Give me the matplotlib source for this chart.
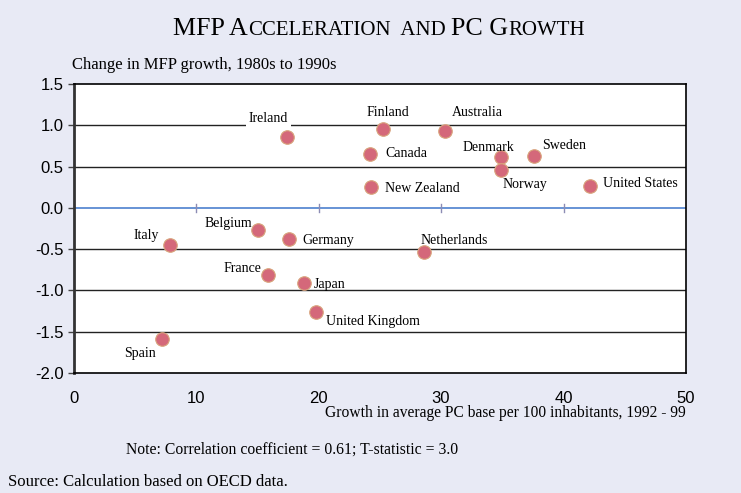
import matplotlib
matplotlib.use('Agg')
import matplotlib.pyplot as plt
from matplotlib.offsetbox import TextArea, HPacker, AnchoredOffsetbox

countries = ['Ireland', 'Finland', 'Canada', 'New Zealand', 'Australia',
             'Denmark', 'Sweden', 'Norway', 'United States', 'Belgium',
             'Italy', 'Germany', 'France', 'Japan', 'United Kingdom',
             'Spain', 'Netherlands']
pc_growth = [17.4, 25.3, 24.2, 24.3, 30.3, 34.9, 37.6, 34.9, 42.2, 15.1,
             7.85, 17.6, 15.9, 18.8, 19.8, 7.25, 28.6]
mfp_change = [0.86, 0.95, 0.65, 0.25, 0.93, 0.62, 0.63, 0.46, 0.26, -0.27,
              -0.45, -0.38, -0.81, -0.91, -1.26, -1.59, -0.54]

y_ticks = [1.5, 1.0, 0.5, 0.0, -0.5, -1.0, -1.5, -2.0]
x_ticks = [0, 10, 20, 30, 40, 50]

# label offsets in pixels (dx, dy, ha)
label_pos = {
    'Ireland': (-18, 18, 'center'), 'Finland': (4, 17, 'center'),
    'Canada': (15, 1, 'left'), 'New Zealand': (14, -1, 'left'),
    'Australia': (33, 19, 'center'), 'Denmark': (-13, 9, 'center'),
    'Sweden': (8, 10, 'left'), 'Norway': (24, -15, 'center'),
    'United States': (13, 3, 'left'), 'Belgium': (-6, 7, 'right'),
    'Italy': (-11, 10, 'right'), 'Germany': (13, -1, 'left'),
    'France': (-7, 6, 'right'), 'Japan': (10, -2, 'left'),
    'United Kingdom': (10, -10, 'left'), 'Spain': (-22, -14, 'center'),
    'Netherlands': (-3, 12, 'left'),
}

bg = '#E8EAF5'
serif = 'Liberation Serif'
sans = 'Liberation Sans'

fig = plt.figure(figsize=(7.41, 4.93), dpi=100)
fig.patch.set_facecolor(bg)
ax = fig.add_axes([73.5 / 741, 120 / 493, 612.5 / 741, 289 / 493])
ax.set_facecolor('white')

ax.set_xlim(0, 50)
ax.set_ylim(-2.0, 1.5)

for y in [1.0, 0.5, -0.5, -1.0, -1.5]:
    ax.axhline(y, color='#222222', linewidth=1.0, zorder=1)
ax.axhline(0, color='#5A8AD2', linewidth=1.3, zorder=2)
for x in x_ticks[1:-1]:
    ax.plot([x, x], [-0.05, 0.05], color='#8C8CB4', linewidth=1.0, zorder=2)

ax.scatter(pc_growth, mfp_change, s=95, color='#D4687A',
           edgecolors='#D8A47C', linewidths=0.8, zorder=4)

for c, x, y in zip(countries, pc_growth, mfp_change):
    dx, dy, ha = label_pos[c]
    kw = {}
    if c == 'Ireland':
        kw['bbox'] = dict(facecolor='white', edgecolor='none', pad=2)
    ax.annotate(c, xy=(x, y), xytext=(dx, dy), textcoords='offset pixels',
                ha=ha, va='center', fontsize=10, fontfamily=serif,
                zorder=5, **kw)

ax.set_yticks(y_ticks)
ax.set_yticklabels([f'{v:.1f}' for v in y_ticks], fontsize=12, fontfamily=sans)
ax.set_xticks(x_ticks)
ax.set_xticklabels([str(v) for v in x_ticks], fontsize=12, fontfamily=sans)
ax.tick_params(axis='y', direction='out', length=4, width=1, color='#444444', pad=3)
ax.tick_params(axis='x', length=0, pad=13)

for s in ['top', 'right', 'bottom']:
    ax.spines[s].set_color('black')
    ax.spines[s].set_linewidth(1.2)
ax.spines['left'].set_color('#333333')
ax.spines['left'].set_linewidth(2.0)

# title with small caps
big, small = 18.7, 15.0
parts = [('MFP A', big), ('CCELERATION', small), ('  AND ', small),
         ('PC G', big), ('ROWTH', small)]
boxes = [TextArea(t, textprops=dict(fontsize=s, fontfamily=serif))
         for t, s in parts]
title = HPacker(children=boxes, align='baseline', pad=0, sep=0)
fig.add_artist(AnchoredOffsetbox(loc='center', child=title, frameon=False,
                                 bbox_to_anchor=(379 / 741, 1 - 29 / 493),
                                 bbox_transform=fig.transFigure, pad=0,
                                 borderpad=0))

fig.text(72 / 741, 1 - 65 / 493, 'Change in MFP growth, 1980s to 1990s',
         fontsize=12, fontfamily=serif, ha='left', va='center')
fig.text(686 / 741, 1 - 413 / 493,
         'Growth in average PC base per 100 inhabitants, 1992 - 99',
         fontsize=11.2, fontfamily=serif, ha='right', va='center')
fig.text(126 / 741, 1 - 450 / 493,
         'Note: Correlation coefficient = 0.61; T-statistic = 3.0',
         fontsize=11.3, fontfamily=serif, ha='left', va='center')
fig.text(8 / 741, 1 - 482 / 493, 'Source: Calculation based on OECD data.',
         fontsize=12, fontfamily=serif, ha='left', va='center')

fig.savefig('out.png', dpi=100, facecolor=bg)
